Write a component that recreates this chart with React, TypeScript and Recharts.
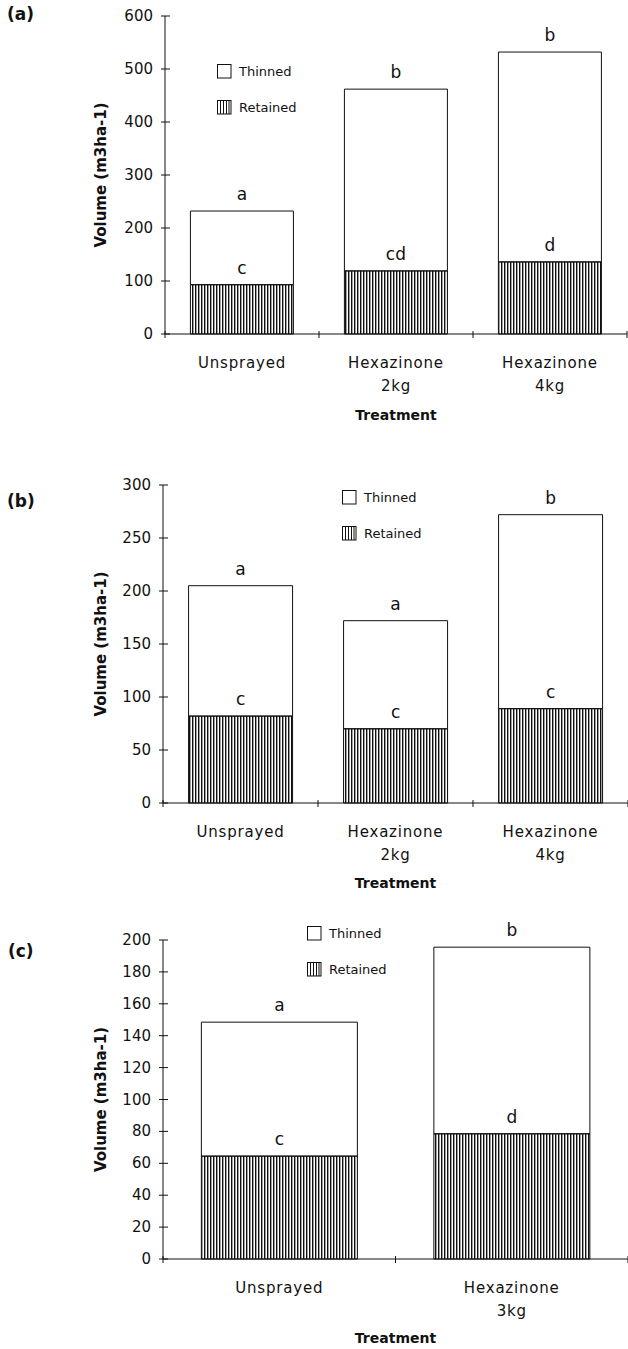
import { BarChart, Bar, XAxis, YAxis, Legend, LabelList } from 'recharts';

// panel (a)
const categoriesA = ['Unsprayed', 'Hexazinone\n2kg', 'Hexazinone\n4kg'];
const retainedA = [93, 119, 136];
const thinnedA = [139, 343, 396];
const retainedLettersA = ['c', 'cd', 'd'];
const thinnedLettersA = ['a', 'b', 'b'];
const ticksA = [0, 100, 200, 300, 400, 500, 600];

// panel (b)
const categoriesB = ['Unsprayed', 'Hexazinone\n2kg', 'Hexazinone\n4kg'];
const retainedB = [82, 70, 89];
const thinnedB = [123, 102, 183];
const retainedLettersB = ['c', 'c', 'c'];
const thinnedLettersB = ['a', 'a', 'b'];
const ticksB = [0, 50, 100, 150, 200, 250, 300];

// panel (c)
const categoriesC = ['Unsprayed', 'Hexazinone\n3kg'];
const retainedC = [64.5, 78.5];
const thinnedC = [84, 117];
const retainedLettersC = ['c', 'd'];
const thinnedLettersC = ['a', 'b'];
const ticksC = [0, 20, 40, 60, 80, 100, 120, 140, 160, 180, 200];

const FONT = '"DejaVu Sans", Verdana, sans-serif';
const INK = '#111';
const WIDTH = 628;

function buildRows(cats: string[], ret: number[], thin: number[], retL: string[], thinL: string[]) {
  return cats.map((c, i) => ({
    name: c,
    retained: ret[i],
    thinned: thin[i],
    retLetter: retL[i],
    thinLetter: thinL[i],
  }));
}

function YTick(props: any) {
  const { x, y, payload } = props;
  const ax = x + 12;
  return (
    <g>
      <line x1={ax - 4} x2={ax + 5} y1={y} y2={y} stroke={INK} strokeWidth={1} />
      <text x={x} y={y} dy={5} textAnchor="end" fontSize={15} fontFamily={FONT} fill={INK}>
        {payload.value}
      </text>
    </g>
  );
}

function makeXTick(halfBand: number) {
  return function XTick(props: any) {
    const { x, y, payload, index } = props;
    const lines = String(payload.value).split('\n');
    return (
      <g>
        {index === 0 && (
          <line x1={x - halfBand} x2={x - halfBand} y1={y - 3} y2={y + 4} stroke={INK} />
        )}
        <line x1={x + halfBand} x2={x + halfBand} y1={y - 3} y2={y + 4} stroke={INK} />
        {lines.map((l, i) => (
          <text
            key={i}
            x={x}
            y={y + 34 + i * 23}
            textAnchor="middle"
            fontSize={15}
            fontFamily={FONT}
            letterSpacing={0.8}
            fill={INK}
          >
            {l}
          </text>
        ))}
      </g>
    );
  };
}

function makeLegend(id: string) {
  return function LegendContent(props: any) {
    const items = [...(props.payload || [])].reverse();
    return (
      <div style={{ fontFamily: FONT, fontSize: 13, color: INK }}>
        {items.map((item: any, i: number) => (
          <div
            key={item.value}
            style={{ display: 'flex', alignItems: 'center', height: 18, marginBottom: i === 0 ? 18 : 0 }}
          >
            <svg width={15} height={15}>
              {item.dataKey === 'retained' && (
                <g stroke={INK} strokeWidth={1}>
                  {[3.5, 6.5, 9.5, 12].map((lx) => (
                    <line key={`${id}${lx}`} x1={lx} x2={lx} y1={1} y2={14} />
                  ))}
                </g>
              )}
              <rect x={0.5} y={0.5} width={13.5} height={13.5} fill="none" stroke={INK} />
            </svg>
            <span style={{ marginLeft: 7 }}>{item.value}</span>
          </div>
        ))}
      </div>
    );
  };
}

interface PanelProps {
  id: string;
  tag: string;
  top: number;
  height: number;
  rows: any[];
  ticks: number[];
  yWidth: number;
  xHeight: number;
  margin: { top: number; right: number; bottom: number; left: number };
  legendPos: { left: number; top: number };
  tagPos: { left: number; top: number };
  treatmentOffset: number;
}

function Panel(p: PanelProps) {
  const plotW = WIDTH - p.yWidth - p.margin.right - p.margin.left;
  const halfBand = plotW / p.rows.length / 2;
  const max = p.ticks[p.ticks.length - 1];
  return (
    <div style={{ position: 'absolute', left: 0, top: p.top, width: WIDTH, height: p.height }}>
      <div
        style={{
          position: 'absolute',
          left: p.tagPos.left,
          top: p.tagPos.top,
          fontFamily: FONT,
          fontWeight: 'bold',
          fontSize: 17,
          color: INK,
          zIndex: 2,
        }}
      >
        {p.tag}
      </div>
      <BarChart
        width={WIDTH}
        height={p.height}
        data={p.rows}
        margin={p.margin}
        barCategoryGap="16.5%"
      >
        <defs>
          <pattern id={`hatch${p.id}`} patternUnits="userSpaceOnUse" width={3} height={8}>
            <rect width={3} height={8} fill="#fff" />
            <rect x={0} width={1.4} height={8} fill={INK} />
          </pattern>
        </defs>
        <XAxis
          dataKey="name"
          height={p.xHeight}
          interval={0}
          tickLine={false}
          tickSize={0}
          tickMargin={0}
          axisLine={{ stroke: INK }}
          tick={makeXTick(halfBand)}
          label={{
            value: 'Treatment',
            position: 'insideBottom',
            offset: p.treatmentOffset,
            fontFamily: FONT,
            fontWeight: 'bold',
            fontSize: 14,
            fill: INK,
          }}
        />
        <YAxis
          width={p.yWidth}
          domain={[0, max]}
          ticks={p.ticks}
          interval={0}
          tickLine={false}
          tickSize={0}
          tickMargin={12}
          axisLine={{ stroke: INK }}
          tick={<YTick />}
          label={{
            content: (lp: any) => {
              const vb = lp.viewBox;
              const cx = 101;
              const cy = vb.y + vb.height / 2;
              return (
                <text
                  x={cx}
                  y={cy}
                  transform={`rotate(-90 ${cx} ${cy})`}
                  textAnchor="middle"
                  dominantBaseline="central"
                  fontFamily={FONT}
                  fontWeight="bold"
                  fontSize={15}
                  fill={INK}
                >
                  Volume (m3ha-1)
                </text>
              );
            },
          }}
        />
        <Legend
          layout="vertical"
          align="center"
          verticalAlign="middle"
          wrapperStyle={{ left: p.legendPos.left, top: p.legendPos.top, width: 'auto', height: 'auto' }}
          content={makeLegend(p.id)}
        />
        <Bar
          dataKey="retained"
          name="Retained"
          stackId="v"
          fill={`url(#hatch${p.id})`}
          stroke={INK}
          strokeWidth={1}
          isAnimationActive={false}
        >
          <LabelList dataKey="retLetter" position="top" offset={11} fontSize={17} fontFamily={FONT} fill={INK} />
        </Bar>
        {/* transparent fill so the retained letters stay visible */}
        <Bar
          dataKey="thinned"
          name="Thinned"
          stackId="v"
          fill="none"
          stroke={INK}
          strokeWidth={1}
          isAnimationActive={false}
        >
          <LabelList dataKey="thinLetter" position="top" offset={11} fontSize={17} fontFamily={FONT} fill={INK} />
        </Bar>
      </BarChart>
    </div>
  );
}

export default function App() {
  return (
    <div style={{ position: 'absolute', left: 0, top: 0, width: WIDTH, height: 1349, background: '#fff' }}>
      <Panel
        id="A"
        tag="(a)"
        top={0}
        height={440}
        rows={buildRows(categoriesA, retainedA, thinnedA, retainedLettersA, thinnedLettersA)}
        ticks={ticksA}
        yWidth={165}
        xHeight={90}
        margin={{ top: 16, right: 1, bottom: 16, left: 0 }}
        legendPos={{ left: 217, top: 62 }}
        tagPos={{ left: 7, top: 4 }}
        treatmentOffset={4}
      />
      <Panel
        id="B"
        tag="(b)"
        top={460}
        height={440}
        rows={buildRows(categoriesB, retainedB, thinnedB, retainedLettersB, thinnedLettersB)}
        ticks={ticksB}
        yWidth={163}
        xHeight={90}
        margin={{ top: 25, right: 0, bottom: 7, left: 0 }}
        legendPos={{ left: 342, top: 28 }}
        tagPos={{ left: 7, top: 31 }}
        treatmentOffset={5}
      />
      <Panel
        id="C"
        tag="(c)"
        top={920}
        height={429}
        rows={buildRows(categoriesC, retainedC, thinnedC, retainedLettersC, thinnedLettersC)}
        ticks={ticksC}
        yWidth={163}
        xHeight={88}
        margin={{ top: 20, right: 0, bottom: 2, left: 0 }}
        legendPos={{ left: 307, top: 4 }}
        tagPos={{ left: 8, top: 21 }}
        treatmentOffset={4}
      />
    </div>
  );
}
